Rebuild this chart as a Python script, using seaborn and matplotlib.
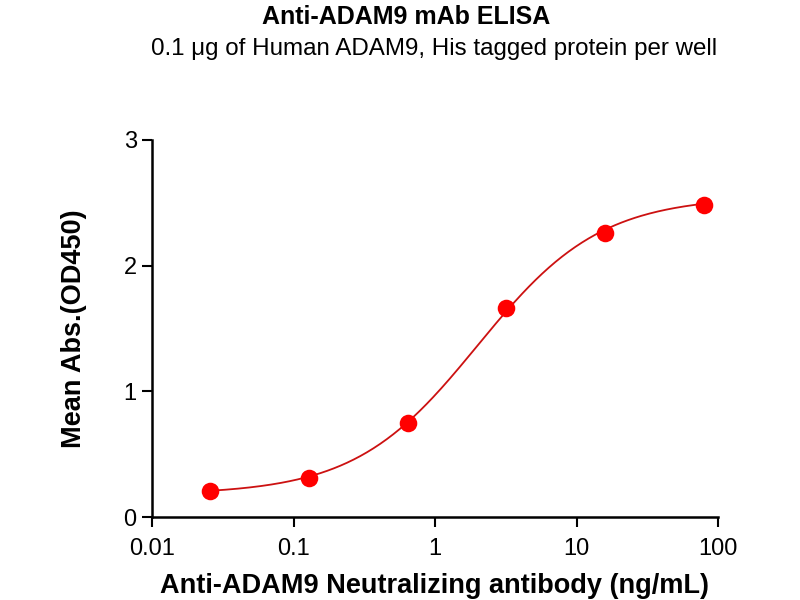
import numpy as np
import matplotlib
matplotlib.use("Agg")
import matplotlib.pyplot as plt
import pandas as pd
import seaborn as sns

# Measured points (ng/mL, OD450)
conc = [0.0256, 0.128, 0.64, 3.2, 16.0, 80.0]
od450 = [0.21, 0.31, 0.75, 1.66, 2.26, 2.48]

# 4PL fit parameters
fit_bottom = 0.18
fit_top = 2.55
fit_ec50 = 2.0
fit_hill = 1.0

x_ticks = [0.01, 0.1, 1, 10, 100]
x_tick_labels = ["0.01", "0.1", "1", "10", "100"]
y_ticks = [0, 1, 2, 3]


def four_pl(x):
    return fit_bottom + (fit_top - fit_bottom) / (1 + (fit_ec50 / x) ** fit_hill)


sns.set_theme(style="ticks")
plt.rcParams["font.family"] = ["Liberation Sans", "DejaVu Sans"]
plt.rcParams["text.color"] = "black"
plt.rcParams["axes.labelcolor"] = "black"
plt.rcParams["xtick.color"] = "black"
plt.rcParams["ytick.color"] = "black"

points_df = pd.DataFrame({"conc": conc, "od": od450})
curve_x = np.logspace(np.log10(conc[0]), np.log10(conc[-1]), 300)
curve_df = pd.DataFrame({"conc": curve_x, "od": four_pl(curve_x)})

fig, ax = plt.subplots(figsize=(8, 6), dpi=100)
fig.subplots_adjust(left=0.19, right=0.8975, top=0.767, bottom=0.138)

sns.lineplot(data=curve_df, x="conc", y="od", color="#cc1111", linewidth=1.3, ax=ax)
sns.scatterplot(data=points_df, x="conc", y="od", color="#ff0000", s=160,
                edgecolor="#ff0000", linewidth=0, zorder=3, ax=ax)

ax.set_xscale("log")
ax.set_xlim(0.01, 100)
ax.set_ylim(0, 3)
ax.set_xticks(x_ticks)
ax.set_xticklabels(x_tick_labels)
ax.set_yticks(y_ticks)
ax.minorticks_off()
ax.tick_params(axis="both", labelsize=17, width=1.5, length=7, pad=4,
               color="black", labelcolor="black")
ax.tick_params(axis="x", pad=8)

for side in ["top", "right"]:
    ax.spines[side].set_visible(False)
for side in ["left", "bottom"]:
    ax.spines[side].set_linewidth(1.8)
    ax.spines[side].set_color("black")

ax.set_xlabel("Anti-ADAM9 Neutralizing antibody (ng/mL)", fontsize=19.5,
              fontweight="bold", labelpad=9)
ax.set_ylabel("Mean Abs.(OD450)", fontsize=19.5, fontweight="bold", labelpad=26)

fig.text(0.508, 0.972, "Anti-ADAM9 mAb ELISA", ha="center", va="center",
         fontsize=18, fontweight="bold")
fig.text(0.543, 0.919, "0.1 \u03bcg of Human ADAM9, His tagged protein per well",
         ha="center", va="center", fontsize=17.4)

fig.savefig("out.png", dpi=100)
